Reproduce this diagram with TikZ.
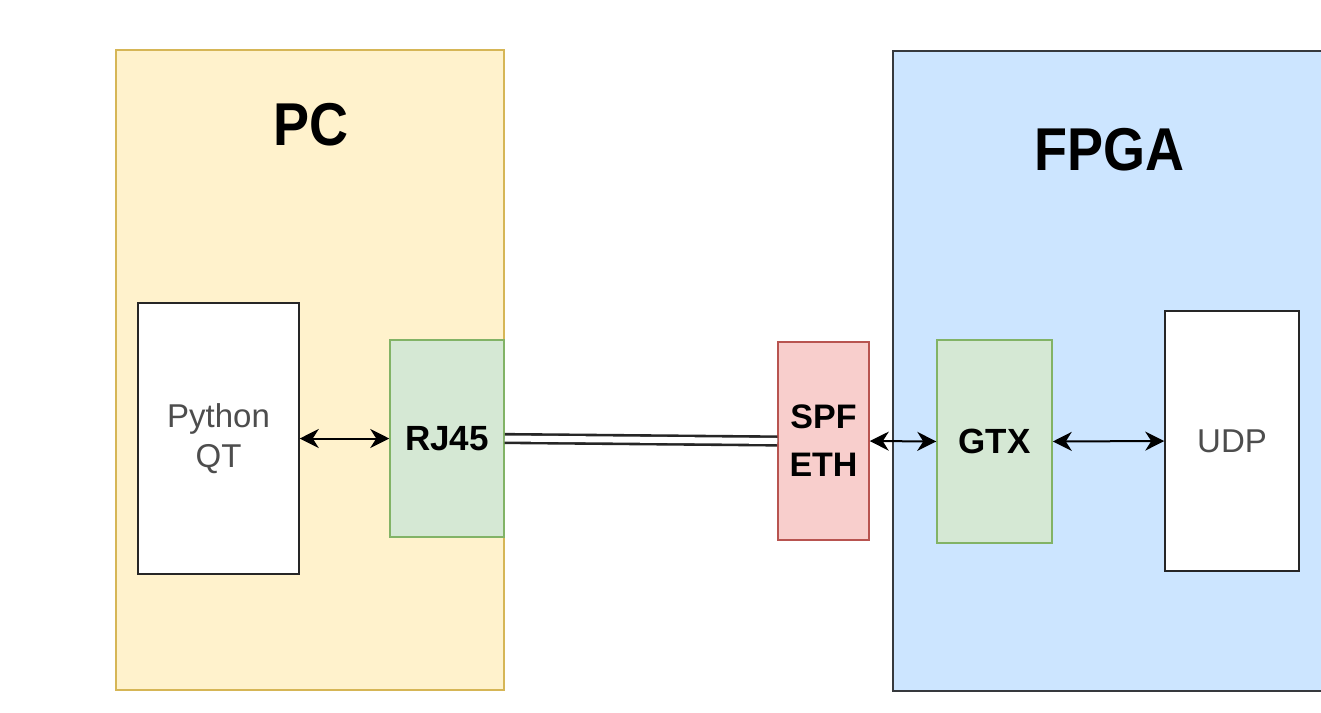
\documentclass[tikz,border=0pt]{standalone}
\usepackage{fontspec}
\setmainfont{Liberation Sans}
\usetikzlibrary{arrows.meta}
\definecolor{pcfill}{HTML}{FFF2CC}
\definecolor{pcline}{HTML}{D6B656}
\definecolor{fpfill}{HTML}{CCE5FF}
\definecolor{fpline}{HTML}{36393D}
\definecolor{gnfill}{HTML}{D5E8D4}
\definecolor{gnline}{HTML}{82B366}
\definecolor{rdfill}{HTML}{F8CECC}
\definecolor{rdline}{HTML}{B85450}
\definecolor{txtgray}{HTML}{4D4D4D}
\tikzset{
  box/.style={rectangle, inner sep=0pt, line width=1.5pt, align=center},
  whitebox/.style={box, draw=black!85, fill=white, text=txtgray,
    font=\fontsize{33}{40}\selectfont},
  greenbox/.style={box, draw=gnline, fill=gnfill, text=black,
    font=\bfseries\fontsize{35}{48}\selectfont},
  redbox/.style={box, draw=rdline, fill=rdfill, text=black,
    font=\bfseries\fontsize{34}{48}\selectfont},
  title/.style={inner sep=0pt, font=\bfseries\fontsize{54}{60}\selectfont},
  tipend/.tip={Stealth[length=19pt, width=19pt, inset=6pt]},
  link/.style={line width=2pt, draw=black, arrows={tipend-tipend}},
}
\begin{document}
\begin{tikzpicture}[x=1pt, y=-1pt]
\useasboundingbox (0,0) rectangle (1321,712);
\clip (0,0) rectangle (1321,712);
\fill[white] (0,0) rectangle (1321,712);

% host side
\node[box, draw=pcline, fill=pcfill, minimum width=388pt, minimum height=640pt] (pc) at (310,370) {};
\node[title] (pct) at (311,125) {\scalebox{1}[1.12]{PC}};

% board side (runs off the right edge)
\node[box, draw=fpline, fill=fpfill, minimum width=440pt, minimum height=640pt, anchor=north west] (fpga) at (892,50) {};
\node[title] (fpgat) at (1109,150) {\scalebox{1}[1.12]{FPGA}};

% blocks
\node[whitebox, minimum width=161pt, minimum height=271pt] (py) at (218.5,438.5) {Python\\QT};
\node[greenbox, minimum width=114pt, minimum height=197pt] (rj) at (447,438.5) {RJ45};
\node[redbox, minimum width=91pt, minimum height=198pt] (spf) at (823.5,441) {SPF\\ETH};
\node[greenbox, minimum width=115pt, minimum height=203pt] (gtx) at (994.5,441.5) {GTX};
\node[whitebox, minimum width=134pt, minimum height=260pt] (udp) at (1232,441) {UDP};

% connections
\draw[link] (py.east) -- (rj.west);
\draw[link] (spf.east) -- (gtx.west);
\draw[link] (gtx.east) -- (udp.west);
\draw[double=white, double distance=6pt, line width=2.6pt, draw=black!85] (rj.east) -- (spf.west);
\end{tikzpicture}
\end{document}
